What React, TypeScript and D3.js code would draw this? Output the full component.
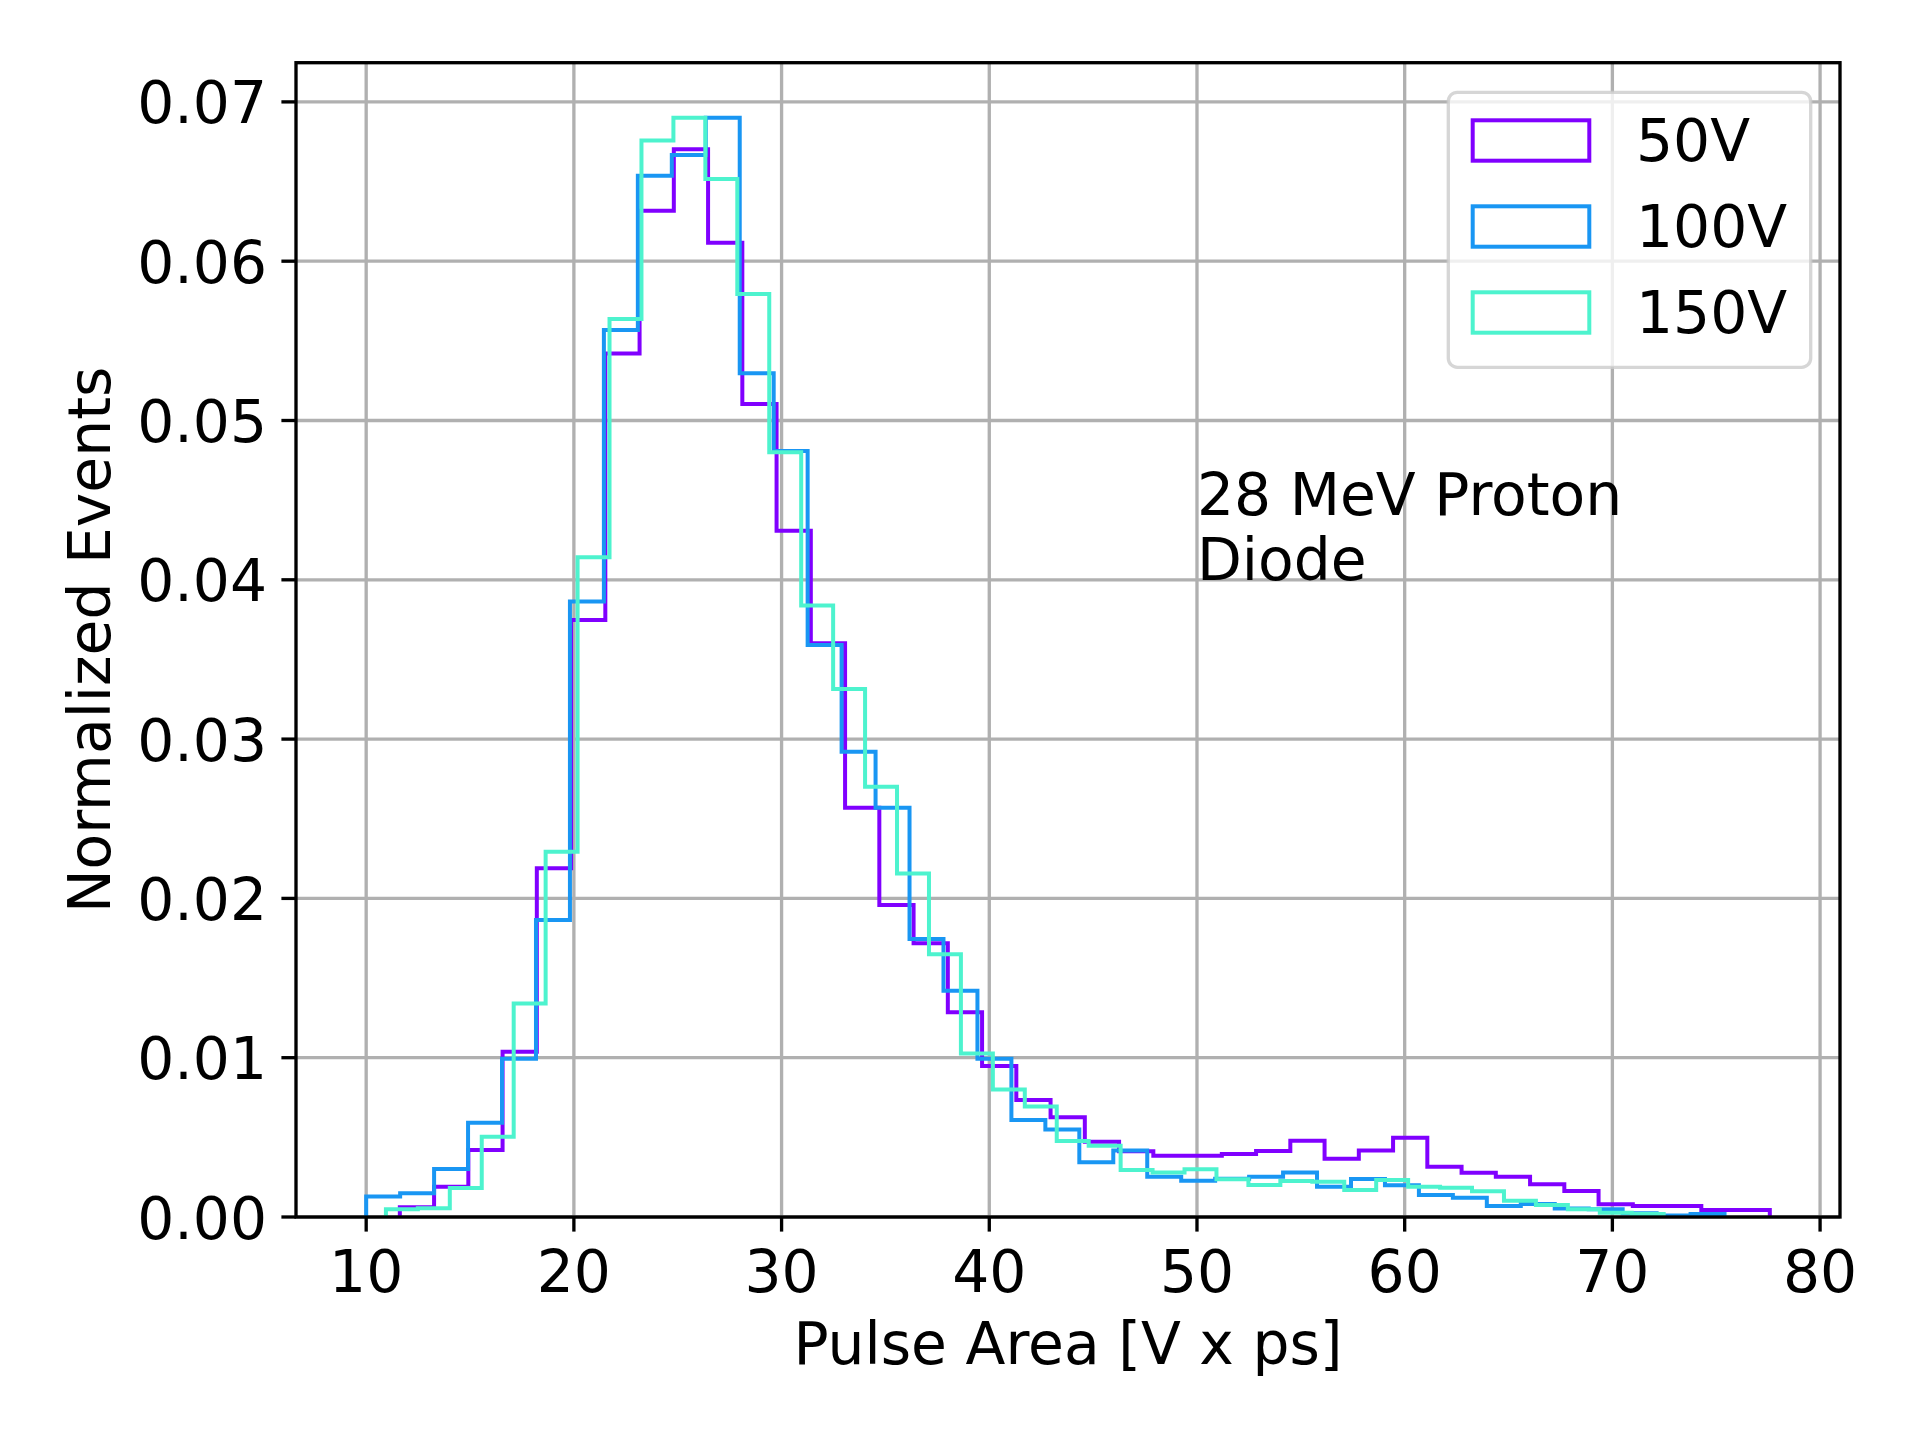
import React, { useEffect, useRef } from 'react';
import * as d3 from 'd3';

// histogram settings (40 bins per bias voltage)
const binCount = 40;
const seriesLabels = ['50V', '100V', '150V'];
const seriesColors = ['#8000ff', '#1996f3', '#4df3ce'];

// [first bin edge, last bin edge]
const range50V = [11.62, 77.58];
const range100V = [10.0, 75.4];
const range150V = [10.95, 72.47];

const counts50V = [
  0.00061, 0.0019, 0.0042, 0.01038, 0.02189, 0.03748, 0.0542, 0.06317, 0.06702, 0.06116,
  0.05104, 0.04308, 0.03601, 0.02569, 0.01959, 0.01718, 0.01285, 0.00948, 0.00734, 0.00626,
  0.00473, 0.00413, 0.00385, 0.00385, 0.00395, 0.00414, 0.00479, 0.00366, 0.00418, 0.00498,
  0.00316, 0.00278, 0.00253, 0.00205, 0.00163, 0.0008, 0.00069, 0.00069, 0.00044, 0.00044,
];
const counts100V = [
  0.00128, 0.00149, 0.00301, 0.00592, 0.00994, 0.01864, 0.03863, 0.05568, 0.06537, 0.06667,
  0.06901, 0.05296, 0.04809, 0.0359, 0.02921, 0.02569, 0.01745, 0.01421, 0.00994, 0.00609,
  0.0055, 0.00343, 0.00417, 0.00253, 0.00228, 0.0024, 0.00253, 0.0028, 0.0019, 0.00238,
  0.00199, 0.00138, 0.00121, 0.00069, 0.00082, 0.00054, 0.00048, 0.00023, 0.0001, 0.00019,
];
const counts150V = [
  0.00048, 0.00055, 0.00182, 0.00504, 0.01341, 0.02293, 0.04141, 0.05637, 0.06757, 0.06901,
  0.06516, 0.05794, 0.048, 0.03838, 0.03315, 0.02701, 0.02157, 0.01649, 0.01027, 0.00801,
  0.00693, 0.00477, 0.00448, 0.00295, 0.0028, 0.003, 0.00237, 0.00201, 0.00226, 0.00222,
  0.0017, 0.00232, 0.0019, 0.00184, 0.00161, 0.00102, 0.00075, 0.00048, 0.00027, 0.00019,
];

const xTicks = [10, 20, 30, 40, 50, 60, 70, 80];
const yTicks = [0, 0.01, 0.02, 0.03, 0.04, 0.05, 0.06, 0.07];
const annotationLines = ['28 MeV Proton', 'Diode'];
const annotationAt = [50, 0.04];

const HistChart: React.FC = () => {
  const svgRef = useRef<SVGSVGElement>(null);

  useEffect(() => {
    if (!svgRef.current) return;
    document.body.style.margin = '0';

    const svg = d3.select(svgRef.current);
    svg.selectAll('*').remove();

    const W = 1920;
    const H = 1440;
    const plot = { left: 296, right: 1840, top: 62.7, bottom: 1217 };
    const font = 'DejaVu Sans, sans-serif';
    const fontSize = 58.3;
    const lw = 3.33;

    const ranges = [range50V, range100V, range150V];
    const counts = [counts50V, counts100V, counts150V];

    // matplotlib style 5% margins on x, y from zero
    const lo = d3.min(ranges, r => r[0]) as number;
    const hi = d3.max(ranges, r => r[1]) as number;
    const pad = (hi - lo) * 0.05;
    const yMax = (d3.max(counts, c => d3.max(c)) as number) * 1.05;

    const x = d3.scaleLinear().domain([lo - pad, hi + pad]).range([plot.left, plot.right]);
    const y = d3.scaleLinear().domain([0, yMax]).range([plot.bottom, plot.top]);

    svg.attr('width', W).attr('height', H);
    svg.append('rect').attr('width', W).attr('height', H).attr('fill', '#ffffff');

    // Grid
    const grid = svg.append('g').attr('stroke', '#b0b0b0').attr('stroke-width', lw);
    grid
      .selectAll('line.gx')
      .data(xTicks)
      .enter()
      .append('line')
      .attr('x1', d => x(d))
      .attr('x2', d => x(d))
      .attr('y1', plot.top)
      .attr('y2', plot.bottom);
    grid
      .selectAll('line.gy')
      .data(yTicks)
      .enter()
      .append('line')
      .attr('x1', plot.left)
      .attr('x2', plot.right)
      .attr('y1', d => y(d))
      .attr('y2', d => y(d));

    // Step histograms
    const line = d3
      .line<[number, number]>()
      .x(d => x(d[0]))
      .y(d => y(d[1]))
      .curve(d3.curveStepAfter);

    ranges.forEach((r, i) => {
      const w = (r[1] - r[0]) / binCount;
      const edges = d3.range(binCount + 1).map(k => r[0] + k * w);
      const vals = counts[i];
      const pts: [number, number][] = [[edges[0], 0]];
      vals.forEach((v, k) => pts.push([edges[k], v]));
      pts.push([edges[binCount], vals[binCount - 1]]);
      pts.push([edges[binCount], 0]);
      svg
        .append('path')
        .attr('d', line(pts) as string)
        .attr('fill', 'none')
        .attr('stroke', seriesColors[i])
        .attr('stroke-width', 4)
        .attr('stroke-linejoin', 'miter');
    });

    // Spines
    svg
      .append('rect')
      .attr('x', plot.left)
      .attr('y', plot.top)
      .attr('width', plot.right - plot.left)
      .attr('height', plot.bottom - plot.top)
      .attr('fill', 'none')
      .attr('stroke', '#000')
      .attr('stroke-width', lw);

    // Ticks and tick labels
    const tickLen = 14.6;
    const axes = svg.append('g').attr('font-family', font).attr('font-size', fontSize).attr('fill', '#000');
    xTicks.forEach(t => {
      axes
        .append('line')
        .attr('x1', x(t))
        .attr('x2', x(t))
        .attr('y1', plot.bottom)
        .attr('y2', plot.bottom + tickLen)
        .attr('stroke', '#000')
        .attr('stroke-width', lw);
      axes
        .append('text')
        .attr('x', x(t))
        .attr('y', 1291.5)
        .attr('text-anchor', 'middle')
        .text(String(t));
    });
    yTicks.forEach(t => {
      axes
        .append('line')
        .attr('x1', plot.left - tickLen)
        .attr('x2', plot.left)
        .attr('y1', y(t))
        .attr('y2', y(t))
        .attr('stroke', '#000')
        .attr('stroke-width', lw);
      axes
        .append('text')
        .attr('x', 267)
        .attr('y', y(t) + 21.5)
        .attr('text-anchor', 'end')
        .text(d3.format('.2f')(t));
    });

    // Axis labels
    axes
      .append('text')
      .attr('x', (plot.left + plot.right) / 2)
      .attr('y', 1364)
      .attr('text-anchor', 'middle')
      .text('Pulse Area [V x ps]');
    axes
      .append('text')
      .attr('transform', `translate(110,${(plot.top + plot.bottom) / 2}) rotate(-90)`)
      .attr('text-anchor', 'middle')
      .text('Normalized Events');

    // Annotation
    const ann = axes
      .append('text')
      .attr('x', x(annotationAt[0]))
      .attr('y', y(annotationAt[1]));
    annotationLines.forEach((s, i) => {
      ann
        .append('tspan')
        .attr('x', x(annotationAt[0]))
        .attr('y', y(annotationAt[1]) - (annotationLines.length - 1 - i) * 65)
        .text(s);
    });

    // Legend
    const legend = svg.append('g');
    legend
      .append('rect')
      .attr('x', 1448.3)
      .attr('y', 92.3)
      .attr('width', 1810.7 - 1448.3)
      .attr('height', 367.3 - 92.3)
      .attr('rx', 9)
      .attr('fill', 'rgba(255,255,255,0.8)')
      .attr('stroke', 'rgba(204,204,204,0.8)')
      .attr('stroke-width', lw);
    seriesLabels.forEach((label, i) => {
      const cy = 140.5 + i * 86;
      legend
        .append('rect')
        .attr('x', 1472.7)
        .attr('y', cy - 20.2)
        .attr('width', 116.6)
        .attr('height', 40.4)
        .attr('fill', 'none')
        .attr('stroke', seriesColors[i])
        .attr('stroke-width', 4);
      legend
        .append('text')
        .attr('x', 1636)
        .attr('y', 160.7 + i * 86)
        .attr('font-family', font)
        .attr('font-size', fontSize)
        .attr('fill', '#000')
        .text(label);
    });
  }, []);

  return <svg ref={svgRef} style={{ position: 'absolute', left: 0, top: 0, display: 'block' }} />;
};

export default function App() {
  return <HistChart />;
}
